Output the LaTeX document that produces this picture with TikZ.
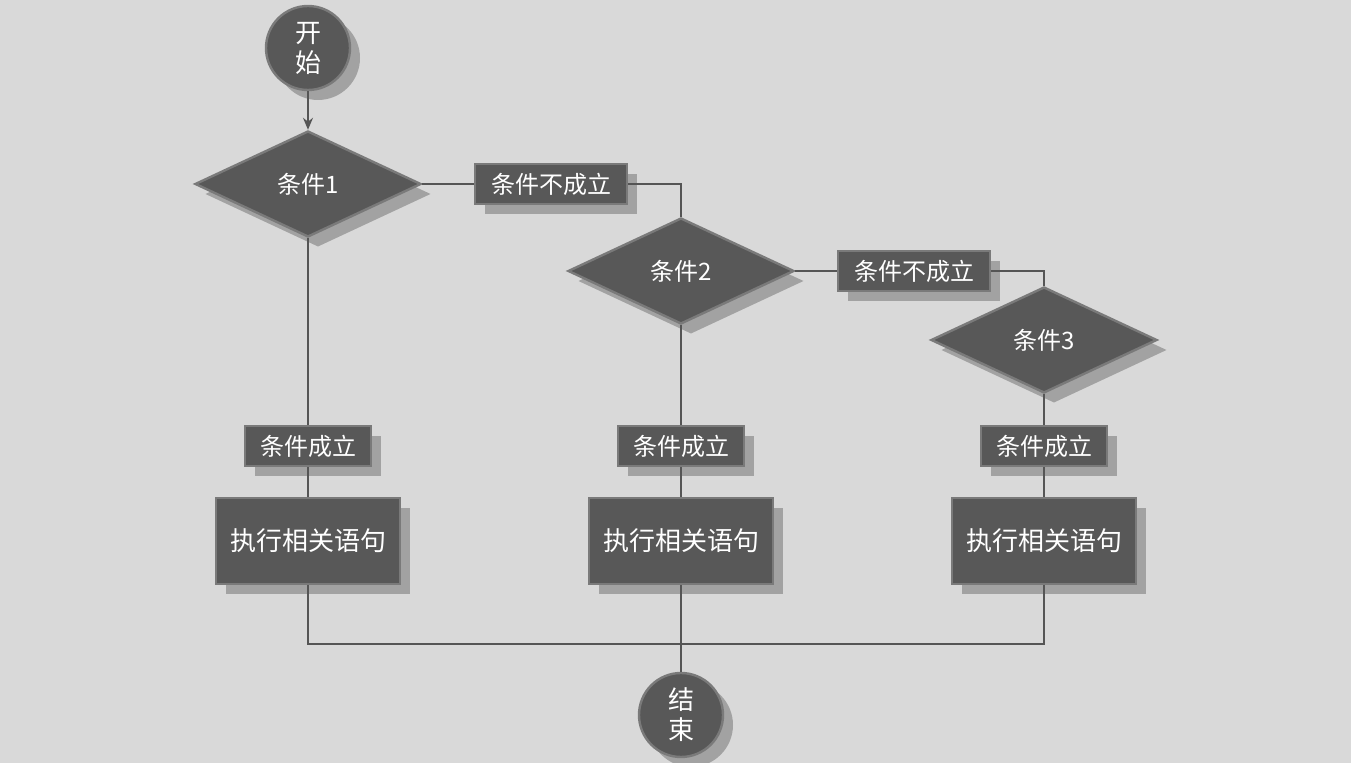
\documentclass[tikz,border=0pt]{standalone}
\usepackage{fontspec}
\setmainfont{Noto Sans CJK SC}
\usetikzlibrary{shapes.geometric,shadows,arrows.meta}
\definecolor{bg}{HTML}{D9D9D9}
\definecolor{shape}{HTML}{585858}
\definecolor{edge}{HTML}{7A7A7A}
\definecolor{ln}{HTML}{555555}
\begin{document}
\begin{tikzpicture}[x=0.5pt,y=-0.5pt,
  base/.style={fill=shape,draw=edge,line width=1.2pt,text=white,inner sep=0pt,
    drop shadow={shadow xshift=5pt,shadow yshift=-5pt,fill=black,opacity=0.25}},
  term/.style={base,circle,minimum size=42pt,align=center,font=\fontsize{13}{15}\selectfont},
  cond/.style={base,diamond,aspect=2.13,minimum width=113pt,minimum height=53pt,font=\fontsize{12}{14}\selectfont},
  lab/.style={base,rectangle,minimum height=20pt,font=\fontsize{12}{14}\selectfont},
  act/.style={base,rectangle,minimum width=92pt,minimum height=43pt,font=\fontsize{13}{15}\selectfont},
  conn/.style={draw=ln,line width=0.8pt}]
\fill[bg] (0,0) rectangle (1351,763);
\path[use as bounding box] (0,0) rectangle (1351,763);
\node[term] (s) at (308,48) {开\\始};
\node[cond] (c1) at (308,184) {条件1};
\node[cond] (c2) at (681,271) {条件2};
\node[cond] (c3) at (1044,340) {条件3};
\node[lab,minimum width=76pt] (n1) at (551,184) {条件不成立};
\node[lab,minimum width=76pt] (n2) at (914,271) {条件不成立};
\node[lab,minimum width=63pt] (y1) at (308,446) {条件成立};
\node[lab,minimum width=63pt] (y2) at (681,446) {条件成立};
\node[lab,minimum width=63pt] (y3) at (1044,446) {条件成立};
\node[act] (a1) at (308,541) {执行相关语句};
\node[act] (a2) at (681,541) {执行相关语句};
\node[act] (a3) at (1044,541) {执行相关语句};
\node[term] (e) at (681,715) {结\\束};
\coordinate (j1) at (308,644);
\coordinate (j3) at (1044,644);
\begin{scope}[on background layer/.style={}]
\end{scope}
\draw[conn,-{Stealth[length=6pt,width=5pt]}] (s) -- (c1);
\draw[conn] (c1.east) -- (n1.west);
\draw[conn] (n1.east) -| (c2.north);
\draw[conn] (c2.east) -- (n2.west);
\draw[conn] (n2.east) -| (c3.north);
\draw[conn] (c1.south) -- (y1.north);
\draw[conn] (c2.south) -- (y2.north);
\draw[conn] (c3.south) -- (y3.north);
\draw[conn] (y1) -- (a1);
\draw[conn] (y2) -- (a2);
\draw[conn] (y3) -- (a3);
\draw[conn] (a1.south) -- (j1) -- (j3) -- (a3.south);
\draw[conn] (a2.south) -- (e.north);
\end{tikzpicture}
\end{document}
